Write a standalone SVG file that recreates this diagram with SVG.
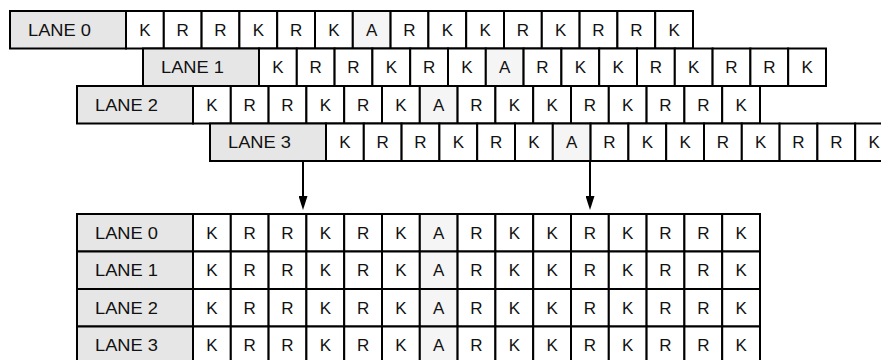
<svg xmlns="http://www.w3.org/2000/svg" xmlns:xlink="http://www.w3.org/1999/xlink" width="881" height="360" viewBox="0 0 881 360">
<style>
rect{stroke:#000;stroke-width:2;fill:#fff}
rect.lbl{fill:#e6e6e6}
rect.a{fill:#f5f5f5}
text{font-family:"Liberation Sans",Arial,sans-serif;font-size:17px;fill:#111}
text.c{text-anchor:middle}
.conn line{stroke:#000;stroke-width:2}
</style>
<defs>
<marker id="ah" viewBox="0 0 14 9" refX="8" refY="4.5" markerWidth="14" markerHeight="9" markerUnits="userSpaceOnUse" orient="auto">
<path d="M0,0 L14,4.5 L0,9 z" fill="#000"/>
</marker>
<g id="row">
<rect class="lbl" x="0" y="0" width="116" height="37.5"/>
<rect x="116" y="0" width="37.8" height="37.5"/>
<rect x="153.8" y="0" width="37.8" height="37.5"/>
<rect x="191.6" y="0" width="37.8" height="37.5"/>
<rect x="229.4" y="0" width="37.8" height="37.5"/>
<rect x="267.2" y="0" width="37.8" height="37.5"/>
<rect x="305" y="0" width="37.8" height="37.5"/>
<rect class="a" x="342.8" y="0" width="37.8" height="37.5"/>
<rect x="380.6" y="0" width="37.8" height="37.5"/>
<rect x="418.4" y="0" width="37.8" height="37.5"/>
<rect x="456.2" y="0" width="37.8" height="37.5"/>
<rect x="494" y="0" width="37.8" height="37.5"/>
<rect x="531.8" y="0" width="37.8" height="37.5"/>
<rect x="569.6" y="0" width="37.8" height="37.5"/>
<rect x="607.4" y="0" width="37.8" height="37.5"/>
<rect x="645.2" y="0" width="37.8" height="37.5"/>
<text class="c" x="134.9" y="24.75">K</text>
<text class="c" x="172.7" y="24.75">R</text>
<text class="c" x="210.5" y="24.75">R</text>
<text class="c" x="248.3" y="24.75">K</text>
<text class="c" x="286.1" y="24.75">R</text>
<text class="c" x="323.9" y="24.75">K</text>
<text class="c" x="361.7" y="24.75">A</text>
<text class="c" x="399.5" y="24.75">R</text>
<text class="c" x="437.3" y="24.75">K</text>
<text class="c" x="475.1" y="24.75">K</text>
<text class="c" x="512.9" y="24.75">R</text>
<text class="c" x="550.7" y="24.75">K</text>
<text class="c" x="588.5" y="24.75">R</text>
<text class="c" x="626.3" y="24.75">R</text>
<text class="c" x="664.1" y="24.75">K</text>
</g>
</defs>
<g id="top-lane0" transform="translate(10,11)"><use xlink:href="#row"/><text x="18" y="24.75" textLength="63" lengthAdjust="spacingAndGlyphs">LANE 0</text></g>
<g id="top-lane1" transform="translate(143,48.5)"><use xlink:href="#row"/><text x="18" y="24.75" textLength="63" lengthAdjust="spacingAndGlyphs">LANE 1</text></g>
<g id="top-lane2" transform="translate(77,86)"><use xlink:href="#row"/><text x="18" y="24.75" textLength="63" lengthAdjust="spacingAndGlyphs">LANE 2</text></g>
<g id="top-lane3" transform="translate(210,123.5)"><use xlink:href="#row"/><text x="18" y="24.75" textLength="63" lengthAdjust="spacingAndGlyphs">LANE 3</text></g>
<g id="bottom-lane0" transform="translate(77,214)"><use xlink:href="#row"/><text x="18" y="24.75" textLength="63" lengthAdjust="spacingAndGlyphs">LANE 0</text></g>
<g id="bottom-lane1" transform="translate(77,251.5)"><use xlink:href="#row"/><text x="18" y="24.75" textLength="63" lengthAdjust="spacingAndGlyphs">LANE 1</text></g>
<g id="bottom-lane2" transform="translate(77,289)"><use xlink:href="#row"/><text x="18" y="24.75" textLength="63" lengthAdjust="spacingAndGlyphs">LANE 2</text></g>
<g id="bottom-lane3" transform="translate(77,326.5)"><use xlink:href="#row"/><text x="18" y="24.75" textLength="63" lengthAdjust="spacingAndGlyphs">LANE 3</text></g>
<g id="connectors" class="conn">
<line x1="303" y1="161" x2="303" y2="204" marker-end="url(#ah)"/>
<line x1="590" y1="161" x2="590" y2="204" marker-end="url(#ah)"/>
</g>
</svg>
